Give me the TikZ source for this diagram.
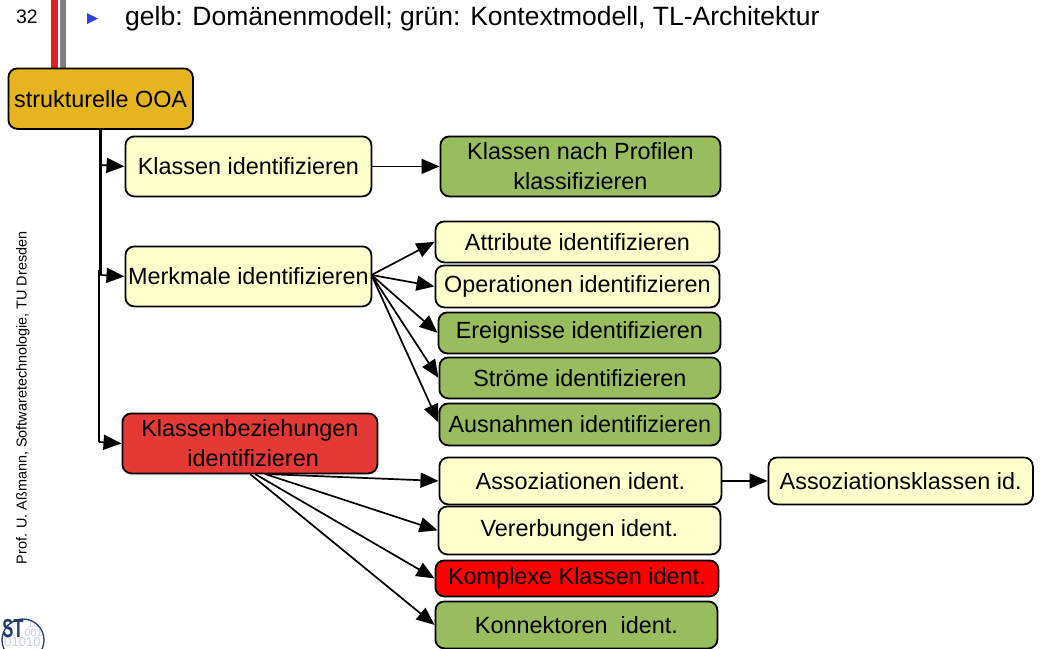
\documentclass[tikz,border=0pt]{standalone}
\usepackage{fontspec}
\setmainfont{Liberation Sans}
\usetikzlibrary{arrows.meta}
\definecolor{ygold}{HTML}{E6B41E}
\definecolor{ypale}{HTML}{FFFFCC}
\definecolor{ygreen}{HTML}{97BD5E}
\definecolor{rsoft}{HTML}{E53935}
\definecolor{rhard}{HTML}{FF0000}
\definecolor{stblue}{HTML}{1F3F6E}
\definecolor{stpale}{HTML}{C9CFF2}
\definecolor{stripered}{HTML}{DE2028}
\definecolor{stripegray}{HTML}{808080}
\definecolor{tri}{HTML}{3344DD}
\tikzset{
 x=1pt,y=-1pt,
 boxn/.style={draw=black,line width=1.8pt,rounded corners=9pt,align=center,inner sep=0pt,font=\fontsize{23.4}{30}\selectfont,text=black},
 pale/.style={boxn,fill=ypale},
 green/.style={boxn,fill=ygreen},
 conn/.style={draw=black,line width=1.7pt,-{Triangle[length=18pt,width=15pt]}},
}
\newcommand{\bx}[7]{\node[#1,minimum width=#4pt,minimum height=#5pt,anchor=north west] (#2) at (#6,#7) {#3};}
\begin{document}
\begin{tikzpicture}
\useasboundingbox (0,0) rectangle (1044,648);
\fill[stripered] (51,0) rectangle (58,68);
\fill[stripegray] (60,0) rectangle (66,68);
\node[anchor=center,font=\fontsize{19.5}{20}\selectfont] (pg) at (27,17) {32};
\fill[tri] (87,13) -- (98,18.5) -- (87,24) -- cycle;
\node[anchor=west,inner sep=0pt,font=\fontsize{26.5}{27}\selectfont] (head) at (125,19) {gelb: Domänenmodell; grün: Kontextmodell, TL-Architektur};
\node[rotate=90,font=\fontsize{14.4}{15}\selectfont] (side) at (23,398) {Prof. U. Aßmann, Softwaretechnologie, TU Dresden};
% logo
\begin{scope}
\clip (23,640) circle (21pt);
\node[text=stpale,font=\fontsize{11}{11}\selectfont,inner sep=0pt,anchor=center] (l1) at (33.5,624) {10};
\node[text=stpale,font=\fontsize{11}{11}\selectfont,inner sep=0pt,anchor=center] (l2) at (33.5,633) {001};
\node[text=stpale,font=\fontsize{13}{13}\selectfont,inner sep=0pt,anchor=center] (l3) at (22.5,642.5) {01010};
\end{scope}
\begin{scope}
\clip (0,615) rectangle (50,648);
\draw[stblue,line width=1.3pt] (23,640) circle (21pt);
\end{scope}
\node[text=stblue,font=\bfseries\fontsize{26}{26}\selectfont,inner sep=0pt,xscale=0.64,anchor=center] (st) at (13,628.5) {ST};
\bx{boxn,fill=ygold}{ooa}{strukturelle OOA}{184.5}{60.5}{7.5}{67.5}
\bx{pale}{k1}{Klassen identifizieren}{246}{60}{124.5}{135.5}
\bx{green}{k2}{Klassen nach Profilen\\klassifizieren}{280}{60}{439.5}{135.5}
\bx{pale}{m}{Merkmale identifizieren}{246}{60}{124.5}{245.5}
\bx{pale}{a1}{Attribute identifizieren}{284}{41}{434.5}{220.5}
\bx{pale}{a2}{Operationen identifizieren}{284}{42}{434.5}{264.5}
\bx{green}{a3}{Ereignisse identifizieren}{282}{41}{437.5}{311.5}
\bx{green}{a4}{Ströme identifizieren}{281}{41}{438.5}{356.5}
\bx{green}{a5}{Ausnahmen identifizieren}{281}{42}{438.5}{402.5}
\bx{boxn,fill=rsoft}{b}{Klassenbeziehungen\\\ identifizieren}{255}{60}{121.5}{412.5}
\bx{pale}{c1}{Assoziationen ident.}{282}{47}{438.5}{456.5}
\bx{pale}{c2}{Vererbungen ident.}{282}{48}{437.5}{505.5}
\bx{boxn,fill=rhard}{c3}{Komplexe Klassen ident.}{283}{36}{434.5}{559.5}
\bx{green}{c4}{Konnektoren\ \ ident.}{282}{47}{434.5}{600.5}
\bx{pale}{d}{Assoziationsklassen id.}{264.5}{47}{767.5}{456.5}
\coordinate (t0) at (100.5,128);
\coordinate (t1) at (100.5,165);
\coordinate (t2) at (100.5,275);
\coordinate (t2b) at (99,270);
\coordinate (t3) at (99,442);
\draw[line width=2.2pt] (t0) -- (t2);
\draw[line width=1.6pt] (t2b) -- (t3);
\draw[conn] (t1) -- (k1.west);
\draw[conn] (t2) -- (m.west);
\draw[conn] (t3) -- (b.west);
\draw[conn] (k1.east) -- (k2.west);
\coordinate (mo) at (371.5,275);
\draw[conn] (mo) -- (a1.west);
\draw[conn] (mo) -- (a2.west);
\draw[conn] (mo) -- (a3.west);
\draw[conn] (mo) -- (a4.west);
\draw[conn] (mo) -- ([yshift=2pt]a5.west);
\coordinate (bo) at (250,474);
\coordinate (bq) at (255,474);
\coordinate (bp) at (265,474);
\draw[conn] (bp) -- (c1.west);
\draw[conn] (bp) -- (c2.west);
\draw[conn] (bq) -- (c3.west);
\draw[conn] (bo) -- (c4.west);
\draw[conn] (c1.east) -- (d.west);
\end{tikzpicture}
\end{document}
